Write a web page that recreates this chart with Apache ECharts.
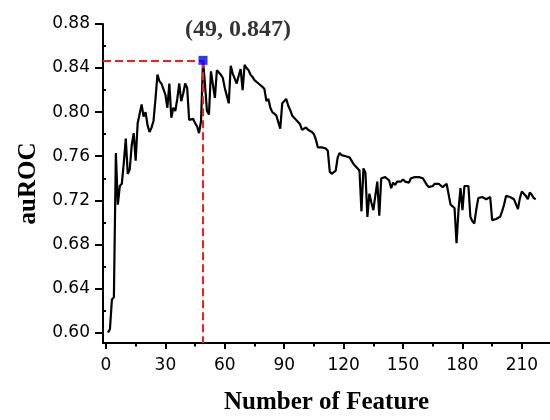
<!DOCTYPE html>
<html>
<head>
<meta charset="utf-8">
<script src="https://cdn.jsdelivr.net/npm/echarts@6/dist/echarts.min.js"></script>
<style>html,body{margin:0;padding:0;background:#fff}#c{width:550px;height:420px}</style>
</head>
<body>
<div id="c"></div>
<script>
// ---- data ----
var firstFeature = 1;
var auroc = [
0.600,0.603,0.630,0.632,0.763,0.716,0.733,0.735,0.754,0.776,
0.744,0.748,0.770,0.781,0.756,0.790,0.791,0.807,0.796,0.800,
0.788,0.782,0.786,0.792,0.812,0.834,0.828,0.826,0.825,0.816,
0.804,0.826,0.795,0.804,0.801,0.812,0.826,0.810,0.817,0.826,
0.822,0.793,0.792,0.794,0.790,0.787,0.781,0.792,0.847,0.825,
0.801,0.798,0.837,0.837,0.813,0.838,0.838,0.834,0.831,0.822,
0.815,0.808,0.842,0.835,0.834,0.826,0.833,0.839,0.820,0.843,
0.840,0.838,0.834,0.832,0.829,0.828,0.826,0.825,0.823,0.821,
0.810,0.812,0.804,0.800,0.801,0.797,0.796,0.785,0.808,0.810,
0.812,0.806,0.802,0.797,0.795,0.793,0.791,0.789,0.784,0.785,
0.786,0.784,0.783,0.782,0.780,0.775,0.768,0.768,0.768,0.768,
0.767,0.765,0.746,0.744,0.745,0.747,0.759,0.763,0.761,0.760,
0.760,0.759,0.759,0.756,0.753,0.751,0.750,0.747,0.710,0.749,
0.745,0.705,0.726,0.718,0.711,0.711,0.737,0.706,0.740,0.741,
0.741,0.740,0.738,0.731,0.736,0.734,0.737,0.736,0.737,0.739,
0.737,0.736,0.736,0.740,0.741,0.741,0.741,0.741,0.740,0.740,
0.739,0.734,0.732,0.732,0.733,0.735,0.736,0.735,0.734,0.732,
0.733,0.735,0.735,0.716,0.715,0.713,0.681,0.711,0.731,0.711,
0.733,0.733,0.733,0.705,0.701,0.699,0.712,0.722,0.723,0.723,
0.723,0.721,0.722,0.723,0.702,0.703,0.703,0.704,0.705,0.710,
0.716,0.724,0.724,0.723,0.723,0.721,0.720,0.712,0.722,0.728,
0.728,0.724,0.721,0.727,0.725,0.722,0.721
];
var bestPoint = [49, 0.847];
var bestLabel = '(49, 0.847)';
var xMajorTicks = [0,30,60,90,120,150,180,210];
var xMinorTicks = [15,45,75,105,135,165,195];
var yMajorTicks = [0.60,0.64,0.68,0.72,0.76,0.80,0.84,0.88];
var yMinorTicks = [0.62,0.66,0.70,0.74,0.78,0.82,0.86];
var xTitle = 'Number of Feature';
var yTitle = 'auROC';

// ---- chart ----
var xMin = -1.5, xMax = 224.2, yMin = 0.5905, yMax = 0.88;
var lineData = auroc.map(function (v, i) { return [firstFeature + i, v]; });
var axisLineStyle = { color: '#000', width: 2 };
var labelFont = { color: '#000', fontFamily: 'DejaVu Sans', fontSize: 17 };
var titleFont = { color: '#000', fontFamily: 'Liberation Serif', fontWeight: 'bold', fontSize: 25 };

var chart = echarts.init(document.getElementById('c'), null, { renderer: 'canvas' });
chart.setOption({
  animation: false,
  backgroundColor: '#fff',
  grid: { left: 103, right: 0, top: 24, bottom: 67, containLabel: false },
  xAxis: [{
    type: 'value', min: xMin, max: xMax,
    name: xTitle, nameLocation: 'middle', nameGap: 47, nameTextStyle: titleFont,
    axisLine: { show: true, onZero: false, lineStyle: axisLineStyle },
    axisTick: { show: true, inside: false, length: 6, customValues: xMajorTicks, lineStyle: axisLineStyle },
    axisLabel: Object.assign({ margin: 14, customValues: xMajorTicks }, labelFont),
    splitLine: { show: false }
  }, {
    type: 'value', min: xMin, max: xMax, position: 'bottom',
    axisLine: { show: false },
    axisTick: { show: true, length: 3.5, customValues: xMinorTicks, lineStyle: axisLineStyle },
    axisLabel: { show: false }, splitLine: { show: false }
  }],
  yAxis: [{
    type: 'value', min: yMin, max: yMax,
    name: yTitle, nameLocation: 'middle', nameGap: 62, nameRotate: 90, nameTextStyle: titleFont,
    axisLine: { show: true, onZero: false, lineStyle: axisLineStyle },
    axisTick: { show: true, inside: false, length: 8, customValues: yMajorTicks, lineStyle: axisLineStyle },
    axisLabel: Object.assign({ margin: 13, customValues: yMajorTicks, formatter: function (v) { return v.toFixed(2); } }, labelFont),
    splitLine: { show: false }
  }, {
    type: 'value', min: yMin, max: yMax, position: 'left',
    axisLine: { show: false },
    axisTick: { show: true, length: 4, customValues: yMinorTicks, lineStyle: axisLineStyle },
    axisLabel: { show: false }, splitLine: { show: false }
  }],
  series: [{
    type: 'line',
    data: lineData,
    xAxisIndex: 0, yAxisIndex: 0,
    showSymbol: false, symbol: 'none',
    lineStyle: { color: '#000', width: 2.2 },
    z: 3,
    markLine: {
      silent: true, symbol: 'none',
      label: { show: false },
      lineStyle: { color: '#ff1a1a', width: 2, type: [8, 4] },
      data: [
        [{ coord: [xMin, bestPoint[1]] }, { coord: [bestPoint[0], bestPoint[1]] }],
        [{ coord: [bestPoint[0], bestPoint[1]] }, { coord: [bestPoint[0], yMin] }]
      ]
    }
  }, {
    type: 'scatter',
    data: [bestPoint],
    xAxisIndex: 0, yAxisIndex: 0,
    symbol: 'rect', symbolSize: 9,
    itemStyle: { color: '#0000ff' },
    z: 5,
    label: {
      show: true, position: 'top', distance: 4, offset: [35, -10],
      formatter: bestLabel,
      color: '#000', fontFamily: 'Liberation Serif', fontWeight: 'bold', fontSize: 24
    }
  }]
});
</script>
</body>
</html>
